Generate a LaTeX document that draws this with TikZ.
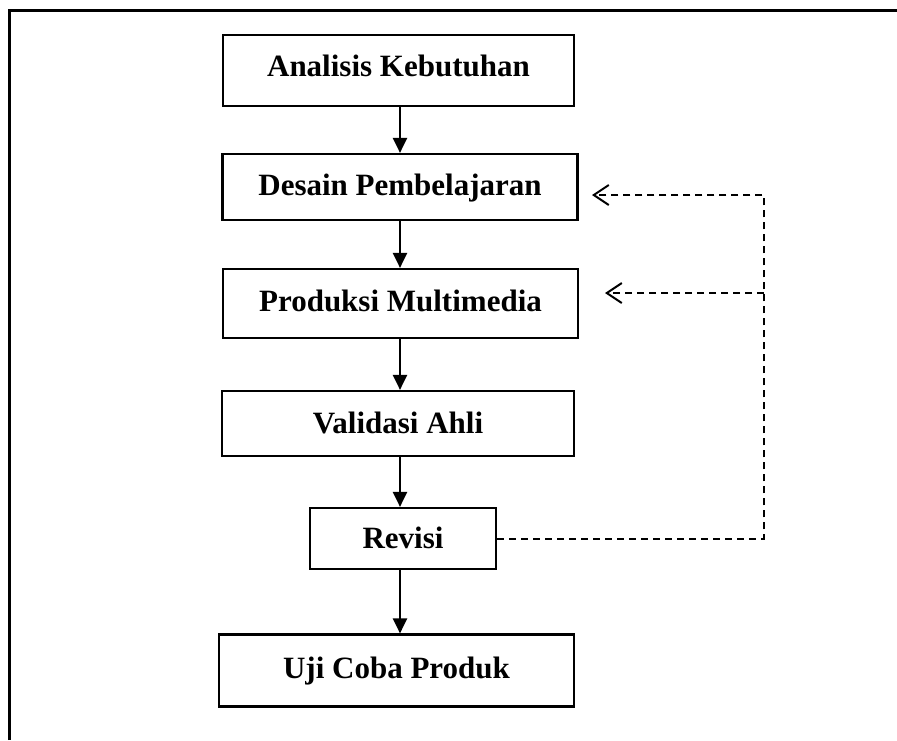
\documentclass[tikz,border=0pt]{standalone}
\usepackage{fontspec}
\setmainfont{Liberation Serif}
\usetikzlibrary{arrows.meta}
\begin{document}
\begin{tikzpicture}[x=1pt,y=-1pt,
 box/.style={draw,line width=2.2pt,inner sep=0pt,text height=21pt,text depth=2pt,font=\fontsize{31}{36}\selectfont\bfseries},
 flow/.style={line width=2.2pt,-{Triangle[length=15pt,width=14pt]}},
 fb/.style={line width=2pt,dash pattern=on 7pt off 5pt,-{Straight Barb[length=15pt,width=20pt,line width=2pt]}}]
\useasboundingbox (0,0) rectangle (897,740);
\draw[line width=3pt] (9,740) -- (9,10) -- (897,10);
\node[box,minimum width=351pt,minimum height=71pt,text depth=10pt] (a) at (398.5,70.5) {Analisis Kebutuhan};
\node[box,minimum width=355pt,minimum height=66pt,text depth=5pt] (d) at (400,187) {Desain Pembelajaran};
\node[box,minimum width=355pt,minimum height=69pt,text depth=5pt] (p) at (400.5,303.5) {Produksi Multimedia};
\node[box,minimum width=352pt,minimum height=65pt] (v) at (398,423.5) {Validasi Ahli};
\node[box,minimum width=186pt,minimum height=61pt] (r) at (403,538.5) {Revisi};
\node[box,minimum width=355pt,minimum height=72pt,text depth=5pt] (u) at (396.5,670.5) {Uji Coba Produk};
\coordinate (ax) at (400,0);
\draw[flow] (a.south -| ax) -- (d.north -| ax);
\draw[flow] (d.south -| ax) -- (p.north -| ax);
\draw[flow] (p.south -| ax) -- (v.north -| ax);
\draw[flow] (v.south -| ax) -- (r.north -| ax);
\draw[flow] (r.south -| ax) -- (u.north -| ax);
\coordinate (c1) at (764,195);
\coordinate (t1) at (592,195);
\coordinate (c2) at (764,293);
\coordinate (t2) at (605,293);
\draw[fb] (r.east) -| (c1) -- (t1);
\draw[fb] (c2) -- (t2);
\end{tikzpicture}
\end{document}
